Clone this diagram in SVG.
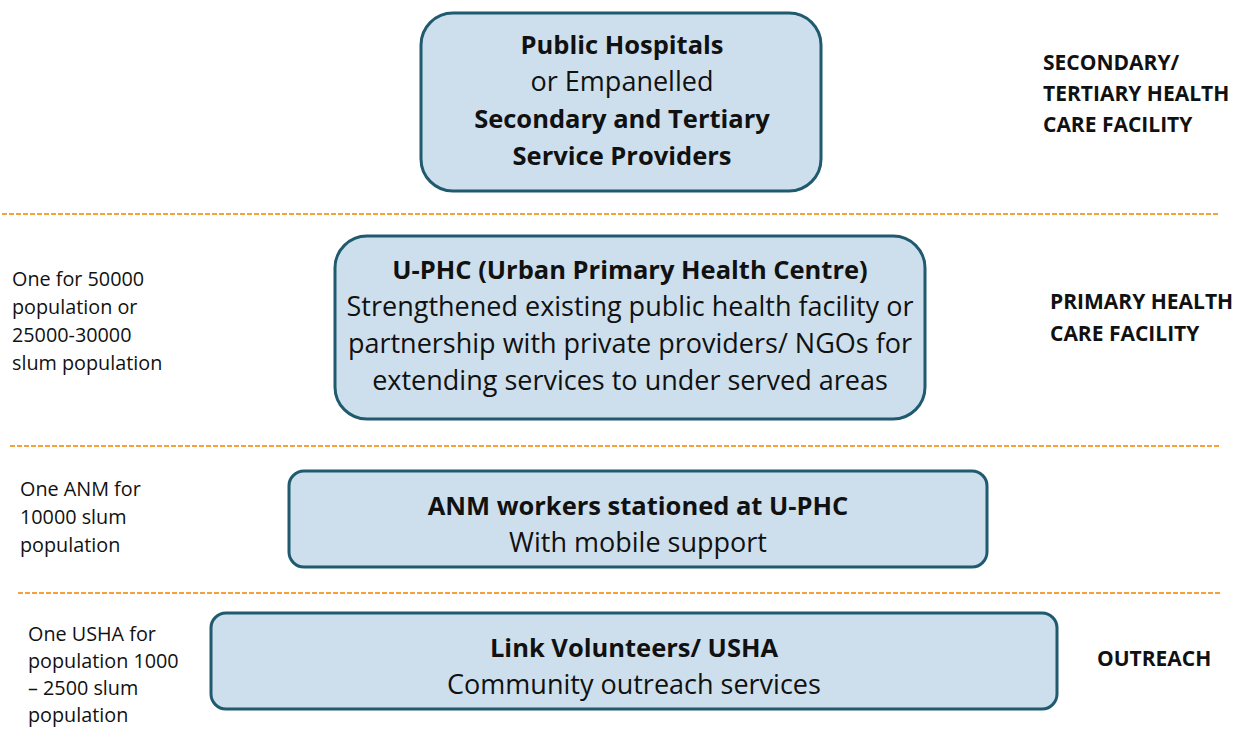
<svg xmlns="http://www.w3.org/2000/svg" width="1246" height="729" viewBox="0 0 1246 729">
  <style>
    .box { fill: #cddfec; stroke: #1f5a6e; stroke-width: 3; }
    .sep { stroke: #f4a03c; stroke-width: 2; stroke-dasharray: 5 2; fill: none; }
    .t { font-family: "Open Sans", "Noto Sans", sans-serif; fill: #111; }
    .main { font-size: 27px; text-anchor: middle; }
    .b { font-weight: bold; font-size: 25.5px; }
    .side { font-size: 19.8px; }
    .tier { font-size: 21px; font-weight: bold; }
  </style>
  <rect width="1246" height="729" fill="#ffffff"/>

  <!-- tier separators -->
  <g id="separators">
    <line class="sep" x1="2" y1="214" x2="1220" y2="214"/>
    <line class="sep" x1="10" y1="446" x2="1220" y2="446"/>
    <line class="sep" x1="18" y1="593" x2="1220" y2="593"/>
  </g>

  <g id="node-hospitals">
    <rect class="box" x="421" y="13" width="400" height="178" rx="32"/>
    <text class="t main b" x="622" y="54">Public Hospitals</text>
    <text class="t main" x="622" y="91">or Empanelled</text>
    <text class="t main b" x="622" y="128">Secondary and Tertiary</text>
    <text class="t main b" x="622" y="165">Service Providers</text>
  </g>

  <g id="node-uphc">
    <rect class="box" x="335" y="236" width="590" height="183" rx="32"/>
    <text class="t main b" x="630" y="279">U-PHC (Urban Primary Health Centre)</text>
    <text class="t main" x="630" y="316">Strengthened existing public health facility or</text>
    <text class="t main" x="630" y="353">partnership with private providers/ NGOs for</text>
    <text class="t main" x="630" y="390">extending services to under served areas</text>
  </g>

  <g id="node-anm">
    <rect class="box" x="289" y="471" width="698" height="96" rx="15"/>
    <text class="t main b" x="638" y="515">ANM workers stationed at U-PHC</text>
    <text class="t main" x="638" y="552">With mobile support</text>
  </g>

  <g id="node-usha">
    <rect class="box" x="211" y="613" width="846" height="96" rx="15"/>
    <text class="t main b" x="634" y="657">Link Volunteers/ USHA</text>
    <text class="t main" x="634" y="694">Community outreach services</text>
  </g>

  <!-- population norms -->
  <g id="norm-uphc" class="t side">
    <text x="12" y="286">One for 50000</text>
    <text x="12" y="314">population or</text>
    <text x="12" y="342">25000-30000</text>
    <text x="12" y="370">slum population</text>
  </g>
  <g id="norm-anm" class="t side">
    <text x="20" y="496">One ANM for</text>
    <text x="20" y="524">10000 slum</text>
    <text x="20" y="552">population</text>
  </g>
  <g id="norm-usha" class="t side">
    <text x="28" y="641">One USHA for</text>
    <text x="28" y="668">population 1000</text>
    <text x="28" y="695">– 2500 slum</text>
    <text x="28" y="722">population</text>
  </g>

  <!-- tier labels -->
  <g id="tier-secondary" class="t tier">
    <text x="1043" y="70">SECONDARY/</text>
    <text x="1043" y="101">TERTIARY HEALTH</text>
    <text x="1043" y="132">CARE FACILITY</text>
  </g>
  <g id="tier-primary" class="t tier">
    <text x="1050" y="309">PRIMARY HEALTH</text>
    <text x="1050" y="341">CARE FACILITY</text>
  </g>
  <g id="tier-outreach" class="t tier">
    <text x="1097" y="666">OUTREACH</text>
  </g>
</svg>
